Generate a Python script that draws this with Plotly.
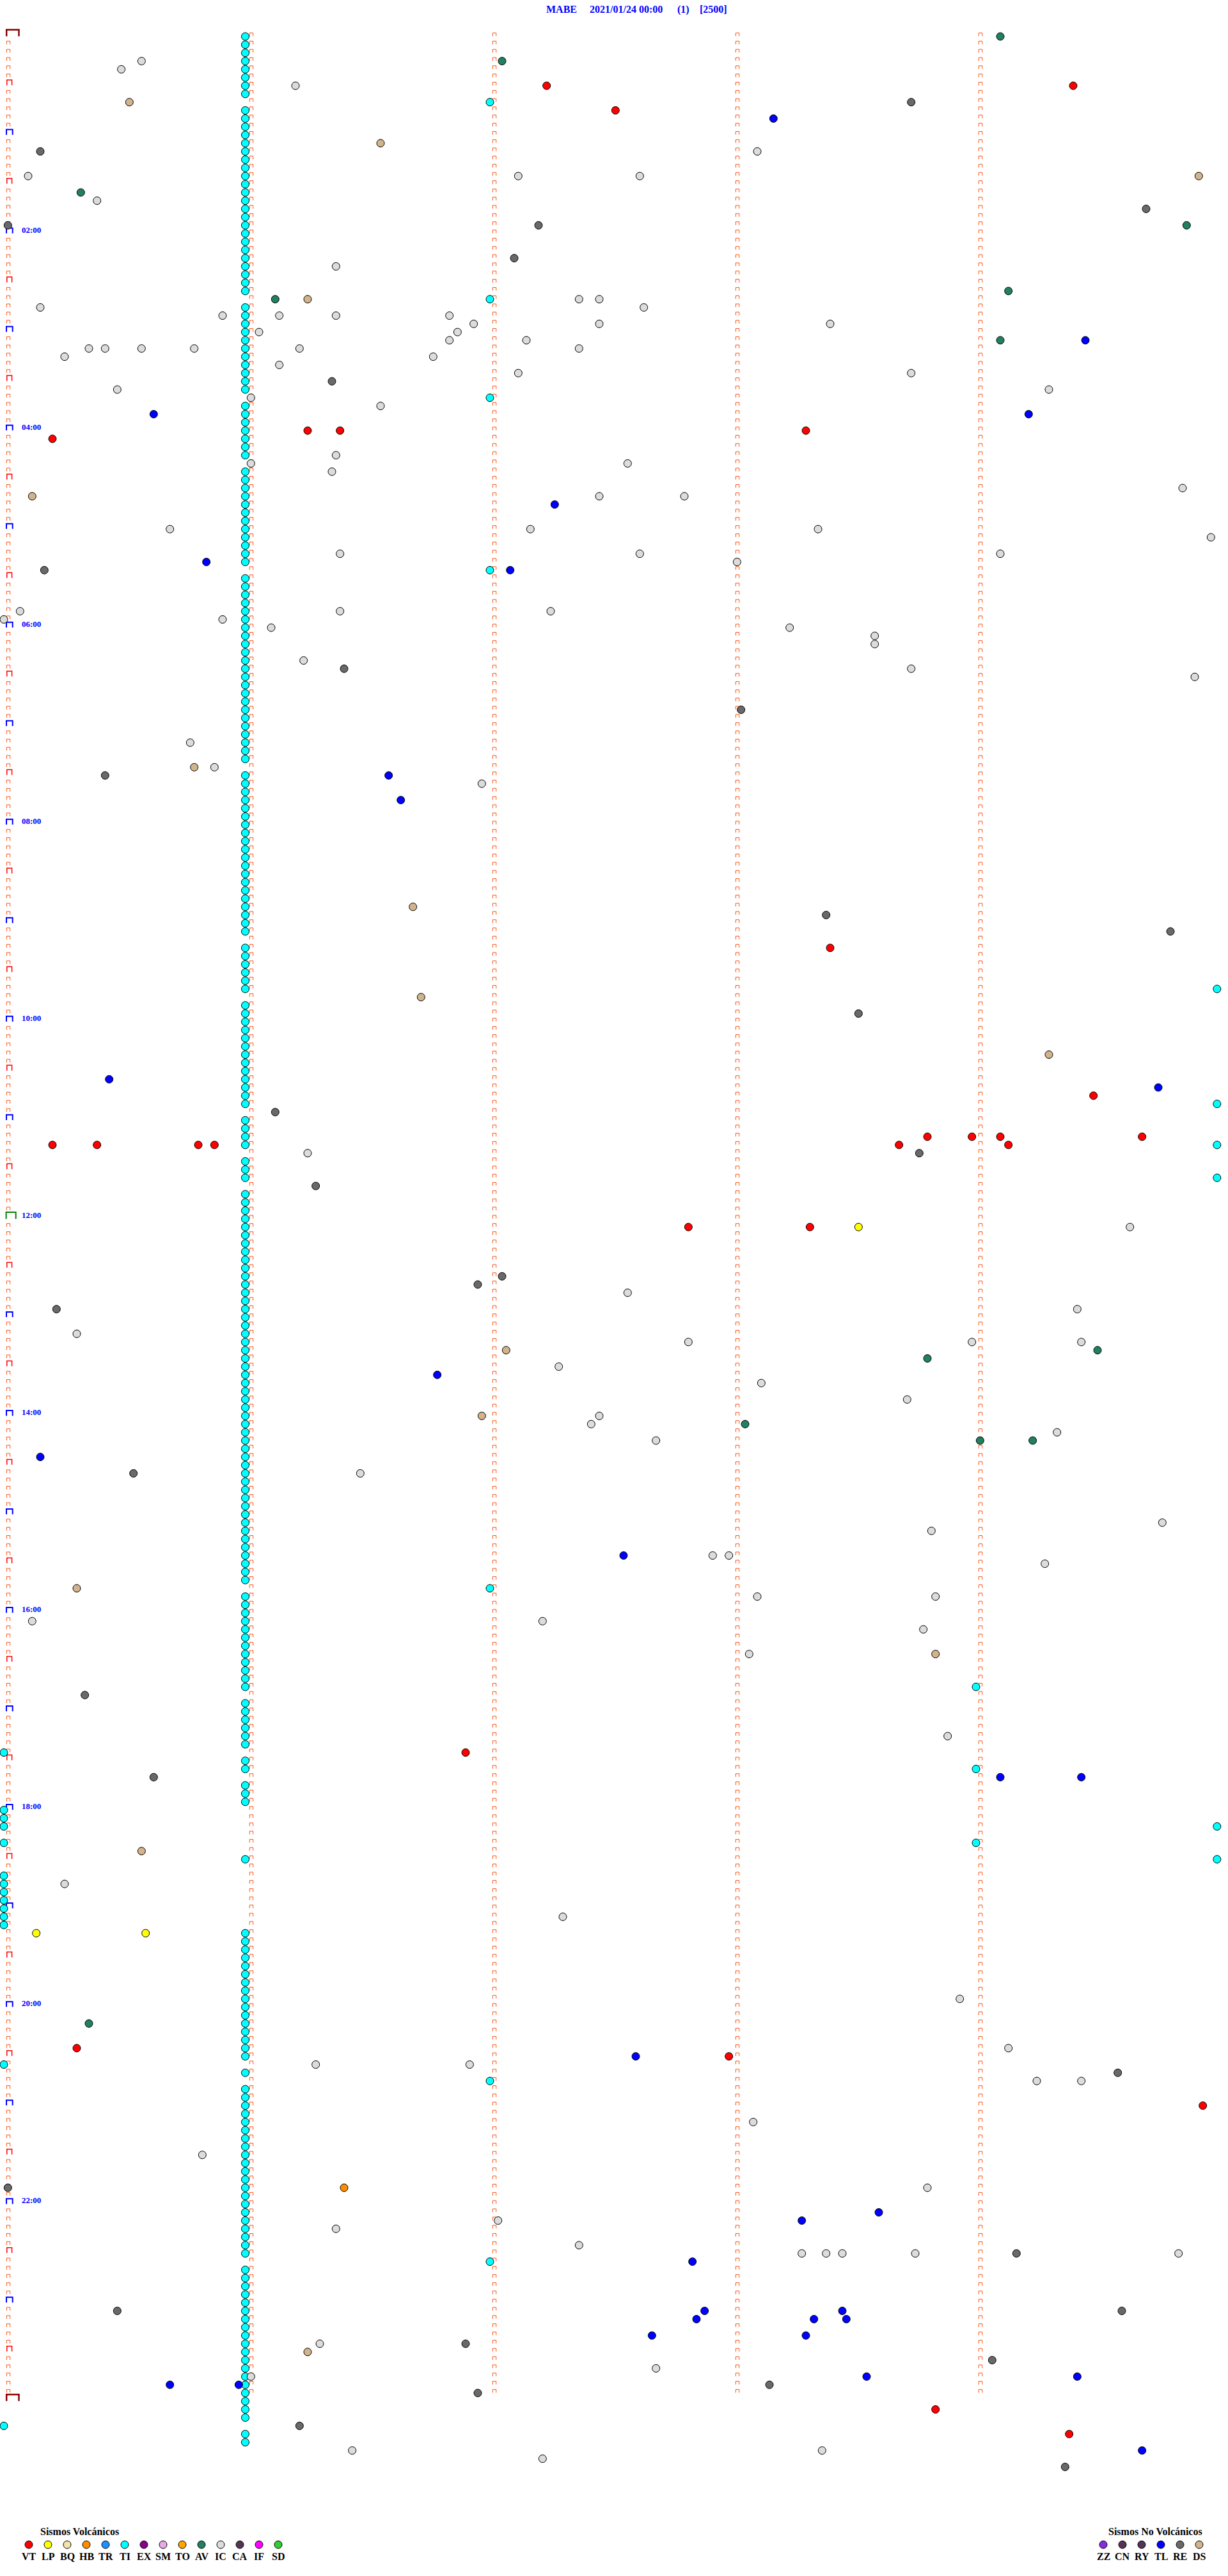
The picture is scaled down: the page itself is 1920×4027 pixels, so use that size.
import plotly.graph_objects as go

# ---------------- data ----------------
TITLE_PARTS = ["MABE", "2021/01/24 00:00", "(1)", "[2500]"]
TITLE_CENTERS_PX = [877.5, 978.5, 1068.5, 1115.0]

HOUR_LABELS = ["02:00", "04:00", "06:00", "08:00", "10:00", "12:00",
               "14:00", "16:00", "18:00", "20:00", "22:00"]

VT = ["00:32:14", "00:47:31", "00:34:24", "04:01:15", "04:01:23", "04:03:18",
      "04:05:12", "09:18:24", "10:49:29", "11:13:48", "11:13:59", "11:14:06",
      "11:14:41", "11:15:12", "11:15:23", "11:15:48", "11:15:52", "11:18:41",
      "11:19:08", "12:07:49", "12:08:19", "17:26:54", "20:25:18", "20:32:59",
      "21:04:56", "24:08:50", "24:24:23"]

LP = ["12:08:31", "19:15:08", "19:15:35"]

HB = ["21:51:24"]

AV = ["00:04:06", "00:17:03", "01:35:19", "01:59:52", "02:39:08", "02:41:07",
      "03:09:06", "13:24:30", "13:28:48", "14:08:03", "14:19:01", "14:19:14",
      "20:10:21"]

IC = ["00:15:34", "00:20:29", "00:31:12", "01:13:06", "01:25:06", "01:27:07",
      "01:27:37", "01:40:23", "02:21:22", "02:42:22", "02:42:27", "02:45:09",
      "02:47:38", "02:50:54", "02:51:08", "02:51:22", "02:51:50", "02:56:56",
      "02:57:27", "02:58:24", "03:01:03", "03:01:52", "03:06:50", "03:07:09",
      "03:10:21", "03:10:25", "03:10:34", "03:10:47", "03:11:13", "03:12:22",
      "03:15:15", "03:16:46", "03:21:08", "03:27:07", "03:28:44", "03:35:28",
      "03:39:18", "03:41:01", "03:46:33", "04:16:22", "04:21:01", "04:22:34",
      "04:26:21", "04:39:51", "04:42:27", "04:42:48",
      "05:00:41", "05:02:10", "05:03:21", "05:09:58", "05:16:23", "05:17:37",
      "05:19:06", "05:23:01", "05:50:04", "05:51:23", "05:52:15", "05:55:00",
      "05:55:54", "06:01:06", "06:03:14", "06:08:35", "06:13:35", "06:21:14",
      "06:28:44", "06:34:54", "07:10:46", "07:25:52", "07:36:58",
      "11:21:15", "12:09:38", "12:47:34", "12:59:25", "13:10:18", "13:17:49",
      "13:18:59", "13:19:26", "13:32:17", "13:43:07", "13:53:43", "14:02:27",
      "14:07:25", "14:14:20", "14:17:41", "14:36:28",
      "15:09:46", "15:13:49", "15:27:55", "15:27:59", "15:34:17", "15:53:06",
      "15:53:50", "16:05:07", "16:07:13", "16:13:47", "16:28:04", "17:18:53",
      "18:45:15", "19:07:18",
      "19:58:56", "20:29:08", "20:36:17", "20:36:55", "20:49:15", "20:49:26",
      "21:13:05", "21:30:49", "21:53:48", "22:12:02", "22:16:22", "22:27:22",
      "22:33:17", "22:33:23", "22:33:27", "22:33:45", "22:34:50", "23:26:18",
      "23:42:41", "23:46:01", "24:31:26", "24:33:22", "24:37:13"]

TL = ["00:53:10", "03:09:27", "03:50:37", "03:54:13", "04:47:16", "05:20:50",
      "05:27:05", "07:31:35", "07:46:38", "10:35:26", "10:44:45", "13:36:47",
      "14:25:09", "15:27:33", "17:44:06", "17:44:26", "20:32:36", "22:08:36",
      "22:13:17", "22:37:50", "23:07:53", "23:08:27", "23:12:51", "23:13:20",
      "23:13:28", "23:22:40", "23:23:18", "23:48:33", "23:49:25", "23:50:41",
      "23:50:58", "24:34:41"]

RE = ["00:43:44", "01:10:09", "01:49:42", "01:55:01", "01:57:12", "02:17:06",
      "03:31:21", "05:25:10", "06:26:24", "06:53:02", "07:30:25", "08:58:23",
      "09:09:48", "09:58:31", "10:56:07", "11:23:46", "11:41:17", "12:37:03",
      "12:41:57", "12:55:13", "14:35:32", "16:50:20", "17:40:37", "20:44:35",
      "21:50:01", "22:34:10", "23:05:28", "23:09:36", "23:26:54", "23:39:04",
      "23:53:09", "23:56:57", "24:16:13", "24:44:22"]

DS = ["00:40:31", "01:06:33", "01:29:55", "02:41:15", "04:40:07", "07:25:47",
      "08:51:41", "09:46:43", "10:24:18", "13:22:04", "14:01:58", "15:45:18",
      "16:28:50", "18:25:34", "23:31:15"]

# TI events that fall outside the regular column
TI_OTHER = ["00:42:00", "02:42:00", "03:42:00", "05:27:00", "15:47:00",
            "20:47:00", "22:37:00", "16:49:00", "17:39:00", "18:24:00",
            "09:44:59.5", "10:54:59.5", "11:19:59.5", "11:39:59.5",
            "18:14:59.5", "18:34:59.5",
            "17:25:00", "18:00:00", "18:05:00", "18:10:00", "18:20:00",
            "18:40:00", "18:45:00", "18:50:00", "18:55:00", "19:00:00",
            "19:05:00", "19:10:00", "20:35:00", "24:15:00"]

# regular TI column: one event per 5-min line, second 59.6 of the line
TI_COLUMN_SEC = 59.6
TI_COLUMN_MASK = ["111111110111", "111111111111", "111111110111", "111111110111",
                  "111101111111", "111110111111", "111111111111", "111110111111",
                  "111111111111", "110111111011", "111111111110", "111101110111",
                  "111111111111", "111111111111", "111111111111", "111111111011",
                  "111111111101", "111110110111", "000000100000", "000111111111",
                  "111111101011", "111111111111", "111111101111", "111111111111",
                  "111011000000"]

VOLC_CODES = ["VT", "LP", "BQ", "HB", "TR", "TI", "EX", "SM", "TO", "AV",
              "IC", "CA", "IF", "SD"]
VOLC_COLORS = ["#FF0000", "#FFFF00", "#F3E3A6", "#FF8C00", "#1E90FF", "#00FFFF",
               "#8B008B", "#E6A8E6", "#FFA500", "#208060", "#DCDCDC", "#553355",
               "#FF00FF", "#32CD32"]
NOVOLC_CODES = ["ZZ", "CN", "RY", "TL", "RE", "DS"]
NOVOLC_COLORS = ["#8A2BE2", "#553355", "#553355", "#0000FF", "#696969", "#D2B48C"]

# ---------------- geometry ----------------
W, H = 1920, 4027
PX0, PXS = 6.0, 380.0 / 60.0      # pixel of second 0, pixels per second
PY0, PYS = 57.0, 12.836           # pixel of line 0, pixels per line
LINE_SEC = 300                    # 5 minutes per line
N_LINES = 288
SERIF = "Liberation Serif, Times New Roman, serif"


def xs(px):
    return (px - PX0) / PXS


def ys(py):
    return (py - PY0) / PYS


def tsec(s):
    p = s.split(":")
    return int(p[0]) * 3600 + int(p[1]) * 60 + float(p[2])


def place(times):
    xv, yv = [], []
    for s in times:
        t = tsec(s)
        r = int(t // LINE_SEC)
        xv.append(t - r * LINE_SEC)
        yv.append(r)
    return xv, yv


fig = go.Figure()

# ---- minute brackets ----
bx, by = [], []
hw = 2.7 / PXS
for r in range(N_LINES):
    for m in range(5):
        if m == 0 and r % 6 == 0:
            continue
        xc = xs(13) + 60 * m
        top = r - 5.5 / PYS
        bot = r - 0.5 / PYS
        bx += [xc - hw, xc - hw, xc + hw, xc + hw, None]
        by += [bot, top, top, bot, None]
fig.add_trace(go.Scatter(x=bx, y=by, mode="lines", hoverinfo="skip",
                         line=dict(color="#FF5010", width=1), showlegend=False))

big = {"half": ([], [], "#FF0000", 1.5, 10.8, 18.6, 9.0, 0.7),
       "hour": ([], [], "#0000FF", 2.0, 10.0, 19.7, 8.5, 0.3),
       "noon": ([], [], "#008000", 2.0, 9.6, 24.7, 10.5, 0.0),
       "day": ([], [], "#8B0000", 2.5, 10.2, 29.5, 10.5, 0.3)}
for r in range(0, N_LINES + 1, 6):
    if r in (0, N_LINES):
        k = "day"
    elif r == 144:
        k = "noon"
    elif r % 12 == 0:
        k = "hour"
    else:
        k = "half"
    lx, ly, col, lw, pl, pr, dt, db = big[k]
    top = r - dt / PYS
    bot = r - db / PYS
    lx += [xs(pl), xs(pl), xs(pr), xs(pr), None]
    ly += [bot, top, top, bot, None]
for k, (lx, ly, col, lw, *_rest) in big.items():
    fig.add_trace(go.Scatter(x=lx, y=ly, mode="lines", hoverinfo="skip",
                             line=dict(color=col, width=lw), showlegend=False))

# ---- events ----
ti_col_times = []
for h, mask in enumerate(TI_COLUMN_MASK):
    for i, c in enumerate(mask):
        if c == "1":
            r = h * 12 + i
            ti_col_times.append(r * LINE_SEC + TI_COLUMN_SEC)
tix = [t % LINE_SEC for t in ti_col_times]
tiy = [int(t // LINE_SEC) for t in ti_col_times]
ox, oy = place(TI_OTHER)

color_of = dict(zip(VOLC_CODES, VOLC_COLORS))
color_of.update({"TL": "#0000FF", "RE": "#696969", "DS": "#D2B48C"})


def add_events(xv, yv, col):
    fig.add_trace(go.Scatter(x=xv, y=yv, mode="markers", showlegend=False,
                             marker=dict(size=12, color=col,
                                         line=dict(color="black", width=1))))


add_events(tix + ox, tiy + oy, color_of["TI"])
for code, times in [("IC", IC), ("RE", RE), ("DS", DS), ("AV", AV),
                    ("HB", HB), ("TL", TL), ("LP", LP), ("VT", VT)]:
    xv, yv = place(times)
    add_events(xv, yv, color_of[code])

# ---- legend rows ----
lgx = [xs(45 + 30 * i) for i in range(len(VOLC_CODES))]
add_events(lgx, [ys(3978)] * len(lgx), VOLC_COLORS)
ngx = [xs(1725 + 30 * i) for i in range(len(NOVOLC_CODES))]
add_events(ngx, [ys(3978)] * len(ngx), NOVOLC_COLORS)

ann = []
for txt, cx in zip(TITLE_PARTS, TITLE_CENTERS_PX):
    ann.append(dict(x=xs(cx), y=ys(14.5), text="<b>%s</b>" % txt, showarrow=False,
                    xanchor="center", yanchor="middle",
                    font=dict(family=SERIF, size=16, color="#0000FF")))
for i, lab in enumerate(HOUR_LABELS):
    r = 24 * (i + 1)
    ann.append(dict(x=xs(32), y=r - 6 / PYS, text="<b>%s</b>" % lab, showarrow=False,
                    xanchor="left", yanchor="middle",
                    font=dict(family=SERIF, size=13, color="#0000FF")))
ann.append(dict(x=xs(124), y=ys(3957), text="<b>Sismos Volcánicos</b>", showarrow=False,
                xanchor="center", yanchor="middle",
                font=dict(family=SERIF, size=16, color="black")))
ann.append(dict(x=xs(1806), y=ys(3957), text="<b>Sismos No Volcánicos</b>", showarrow=False,
                xanchor="center", yanchor="middle",
                font=dict(family=SERIF, size=16, color="black")))
for code, x in zip(VOLC_CODES + NOVOLC_CODES, lgx + ngx):
    ann.append(dict(x=x, y=ys(3996.5), text="<b>%s</b>" % code, showarrow=False,
                    xanchor="center", yanchor="middle",
                    font=dict(family=SERIF, size=16, color="black")))

fig.update_layout(
    width=W, height=H, autosize=False,
    margin=dict(l=0, r=0, t=0, b=0, pad=0),
    paper_bgcolor="white", plot_bgcolor="white",
    xaxis=dict(range=[xs(0), xs(W)], visible=False, fixedrange=True),
    yaxis=dict(range=[ys(H), ys(0)], visible=False, fixedrange=True),
    annotations=ann, showlegend=False,
)

fig.write_html("out.html", config={"displayModeBar": False},
               post_script="document.body.style.margin='0';document.body.style.overflow='hidden';")
